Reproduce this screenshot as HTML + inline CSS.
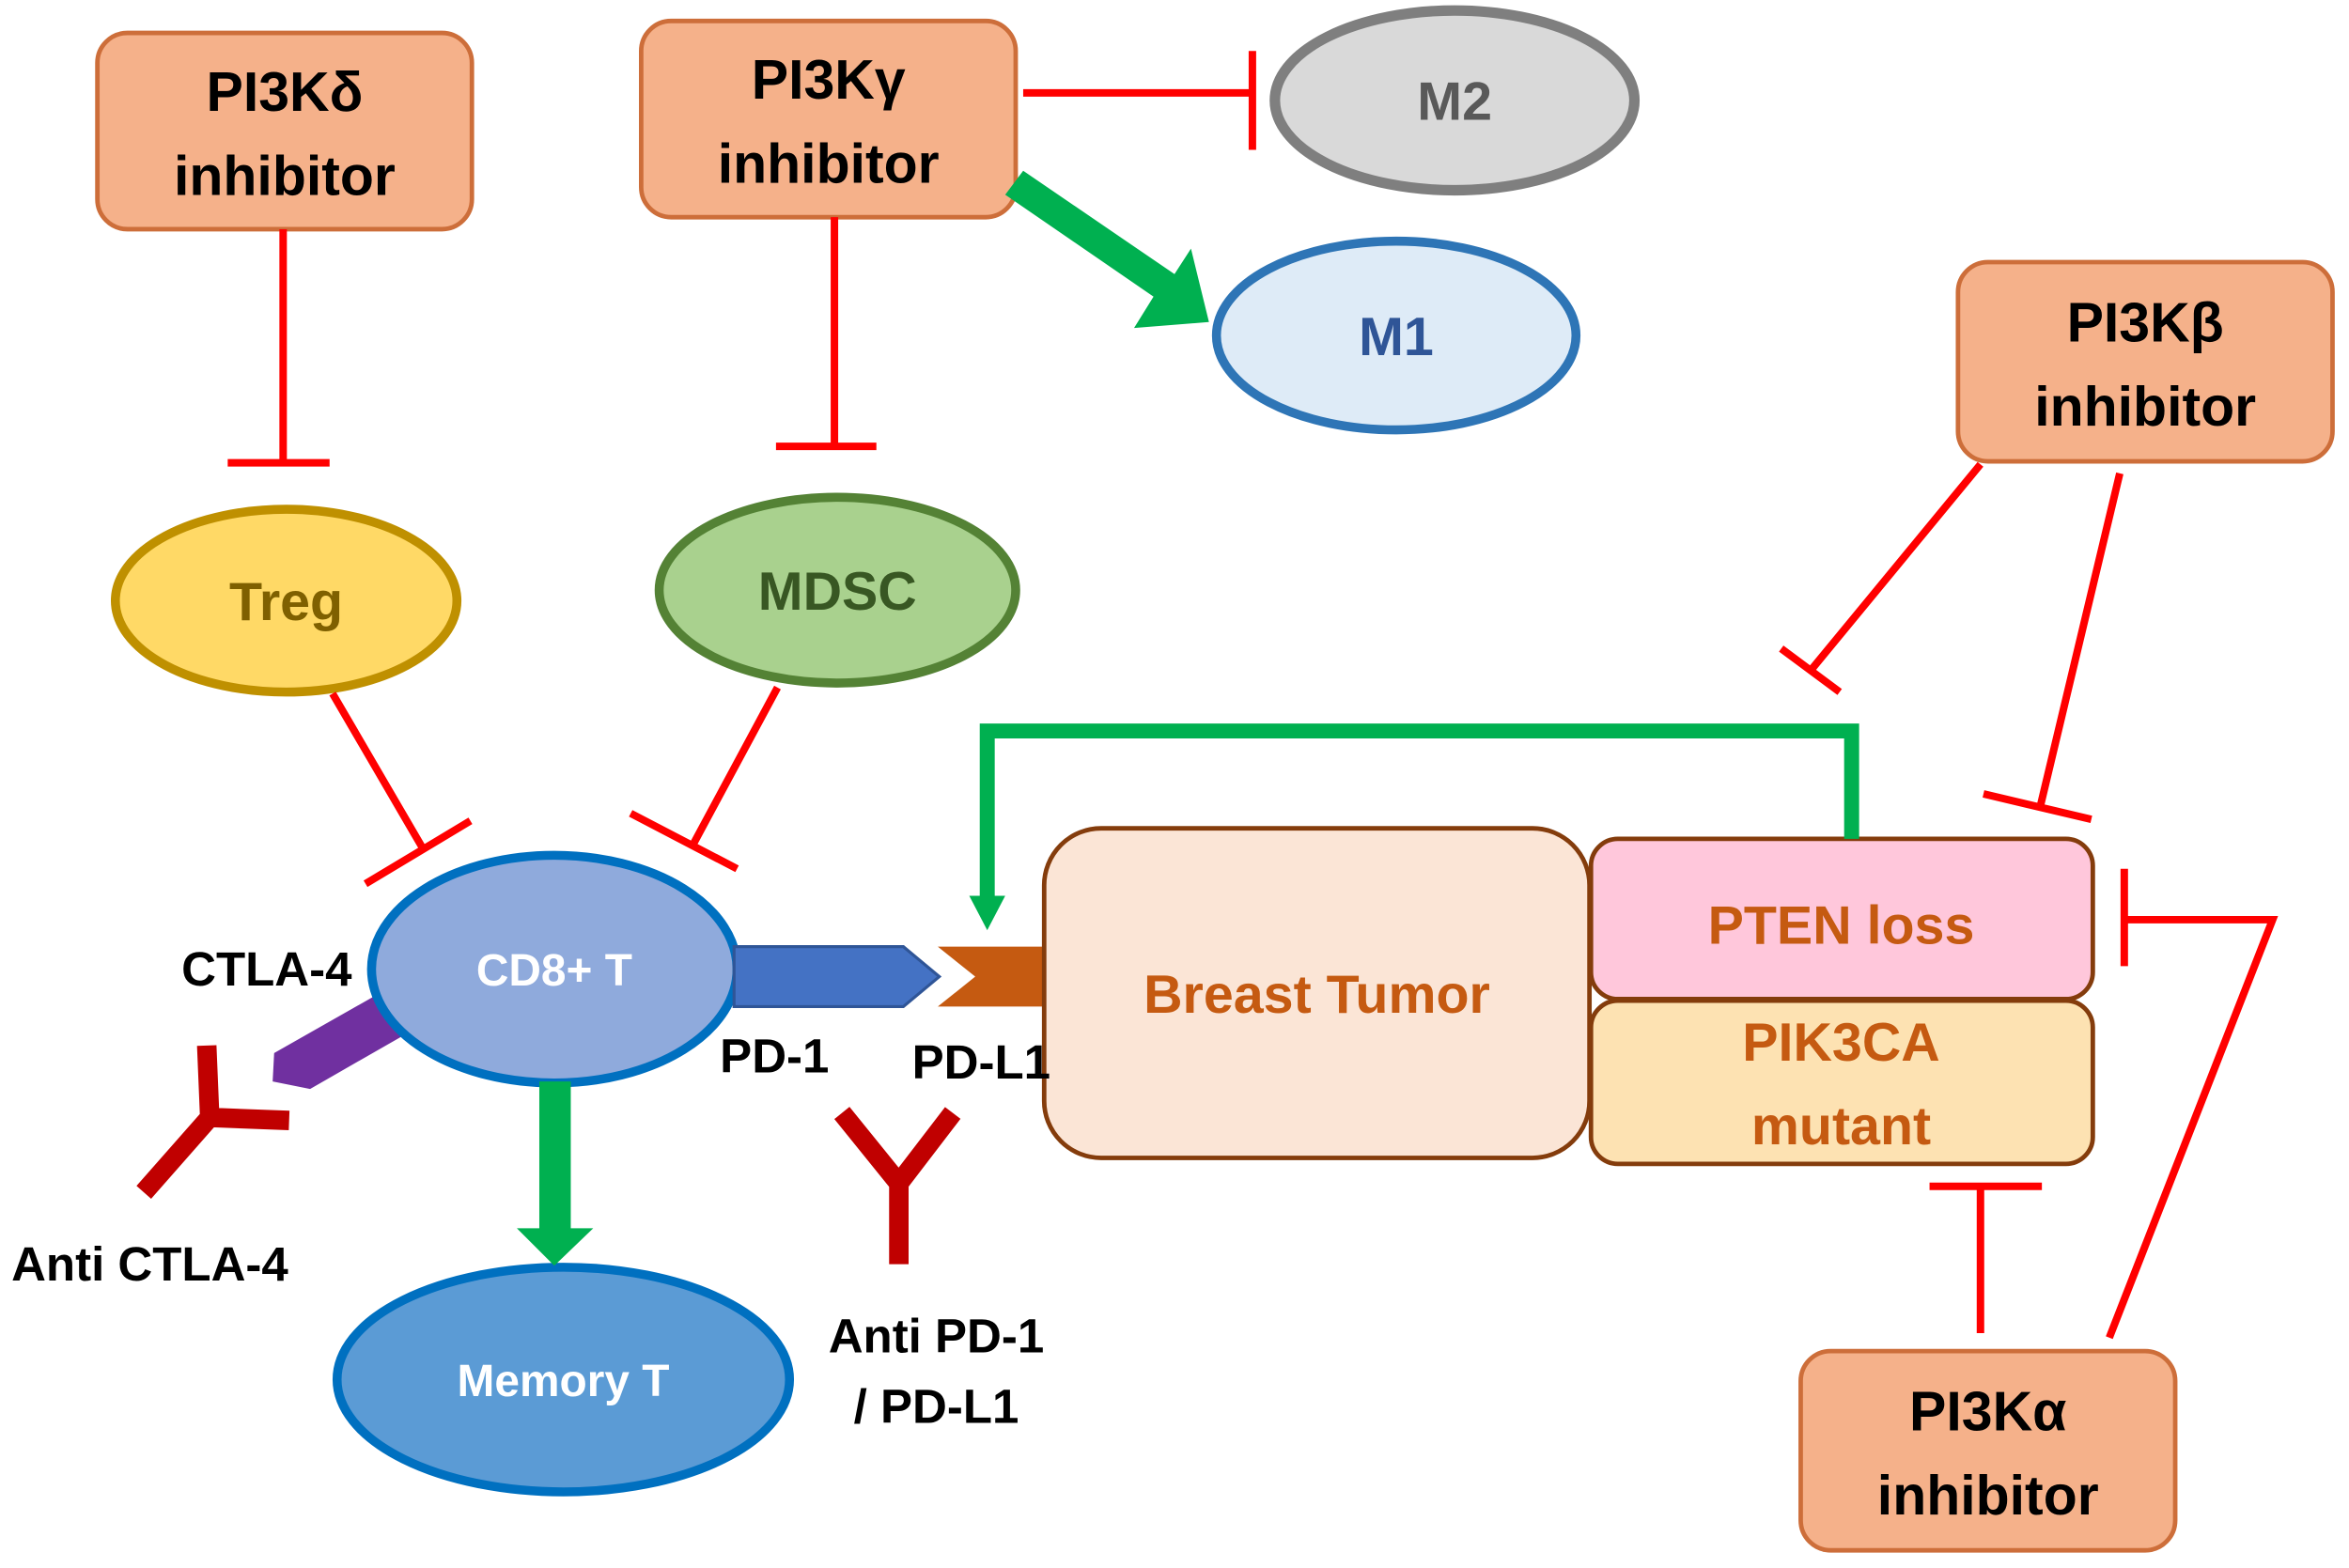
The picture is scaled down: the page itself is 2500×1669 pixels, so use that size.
<!DOCTYPE html>
<html><head><meta charset="utf-8"><style>html,body{margin:0;padding:0;background:#fff}svg{display:block}</style></head><body>
<svg width="2500" height="1669" viewBox="0 0 1568 1046.8" xmlns="http://www.w3.org/2000/svg" font-family="Liberation Sans, sans-serif" font-weight="bold">
<rect width="1568" height="1047" fill="#fff"/>
<g fill="#F5B18A" stroke="#CD6E3A" stroke-width="3">
<rect x="65" y="22" width="250" height="131" rx="20"/>
<rect x="428" y="14" width="250" height="131" rx="20"/>
<rect x="1307" y="175" width="250" height="133" rx="20"/>
<rect x="1202" y="902" width="250" height="133" rx="20"/>
</g>
<g font-size="37" text-anchor="middle" fill="#000">
<text x="190" y="74">PI3Kδ</text><text x="190" y="130">inhibitor</text>
<text x="553" y="66">PI3Kγ</text><text x="553" y="122">inhibitor</text>
<text x="1432" y="228">PI3Kβ</text><text x="1432" y="284">inhibitor</text>
<text x="1327" y="955">PI3Kα</text><text x="1327" y="1011">inhibitor</text>
</g>
<ellipse cx="971" cy="67" rx="120" ry="60" fill="#D9D9D9" stroke="#7F7F7F" stroke-width="7"/>
<text x="971" y="80" font-size="36" text-anchor="middle" fill="#595959">M2</text>
<ellipse cx="932" cy="224" rx="120" ry="63" fill="#DEEBF7" stroke="#2E75B6" stroke-width="6"/>
<text x="932" y="237" font-size="36" text-anchor="middle" fill="#2F5597">M1</text>
<ellipse cx="191" cy="401" rx="114" ry="61" fill="#FFD966" stroke="#BF9000" stroke-width="6"/>
<text x="191" y="414" font-size="36" text-anchor="middle" fill="#7F6000">Treg</text>
<ellipse cx="559" cy="394" rx="119" ry="62" fill="#A9D18E" stroke="#548235" stroke-width="6"/>
<text x="559" y="407" font-size="36" text-anchor="middle" fill="#385723">MDSC</text>
<ellipse cx="376" cy="921" rx="151" ry="75" fill="#5B9BD5" stroke="#0070C0" stroke-width="6"/>
<text x="376" y="932" font-size="30" text-anchor="middle" fill="#fff">Memory T</text>
<polygon points="183,703 250,665 268,692 207,727 182,722" fill="#7030A0"/>
<ellipse cx="370" cy="647" rx="122" ry="76" fill="#8FAADC" stroke="#0070C0" stroke-width="6"/>
<text x="370" y="658" font-size="30" text-anchor="middle" fill="#fff">CD8+ T</text>
<polygon points="490,632 603,632 627,652 603,672 490,672" fill="#4472C4" stroke="#2F5597" stroke-width="2"/>
<polygon points="626,632 698,632 698,672 626,672 651,652" fill="#C55A11"/>
<rect x="697" y="553" width="364" height="220" rx="38" fill="#FBE5D6" stroke="#843C0C" stroke-width="3"/>
<text x="879" y="676" font-size="36" text-anchor="middle" fill="#C55A11">Breast Tumor</text>
<rect x="1062" y="560" width="335" height="107" rx="18" fill="#FFC7DB" stroke="#843C0C" stroke-width="3"/>
<text x="1229" y="630" font-size="36" text-anchor="middle" fill="#C55A11">PTEN loss</text>
<rect x="1062" y="668" width="335" height="109" rx="18" fill="#FDE2B2" stroke="#843C0C" stroke-width="3"/>
<text x="1229" y="708" font-size="36" text-anchor="middle" fill="#C55A11">PIK3CA</text>
<text x="1229" y="764" font-size="36" text-anchor="middle" fill="#C55A11">mutant</text>
<g stroke="#FF0000" stroke-width="5" fill="none">
<path d="M189,153 V309 M152,309 H220"/>
<path d="M557,145 V298 M518,298 H585"/>
<path d="M683,62 H836 M836,34 V100"/>
<path d="M222,463 L282,566 M244,590 L314,548"/>
<path d="M519,459 L462,565 M421,543 L492,580"/>
<path d="M1322,310 L1210,446 M1189,433 L1228,462"/>
<path d="M1415,316 L1362,538 M1324,530 L1396,547"/>
<path d="M1322,890 V792 M1288,792 H1363"/>
<path d="M1408,893 L1517,614 H1418 M1418,580 V645"/>
</g>
<g fill="#00B050" stroke="none">
<polygon points="671,130 683,114 784,183 795,166 807,215 757,219 770,198"/>
<rect x="360" y="722" width="21" height="100"/>
<polygon points="345,820 396,820 370,845"/>
<polygon points="647,598 671,598 659,621"/>
</g>
<path d="M1236,560 V488 H659 V600" stroke="#00B050" stroke-width="10" fill="none"/>
<g stroke="#C00000" stroke-width="13" fill="none" stroke-linecap="butt">
<path d="M96,796 L140,746 L138,698 M140,746 L193,748"/>
<path d="M600,844 V790 L562,743 M600,790 L636,743"/>
</g>
<g font-size="32" fill="#000">
<text x="178" y="658" text-anchor="middle">CTLA-4</text>
<text x="517" y="716" text-anchor="middle">PD-1</text>
<text x="655" y="720" text-anchor="middle">PD-L1</text>
<text x="100" y="855" text-anchor="middle">Anti CTLA-4</text>
<text x="625" y="903" text-anchor="middle">Anti PD-1</text>
<text x="625" y="950" text-anchor="middle">/ PD-L1</text>
</g>
</svg>
</body></html>
